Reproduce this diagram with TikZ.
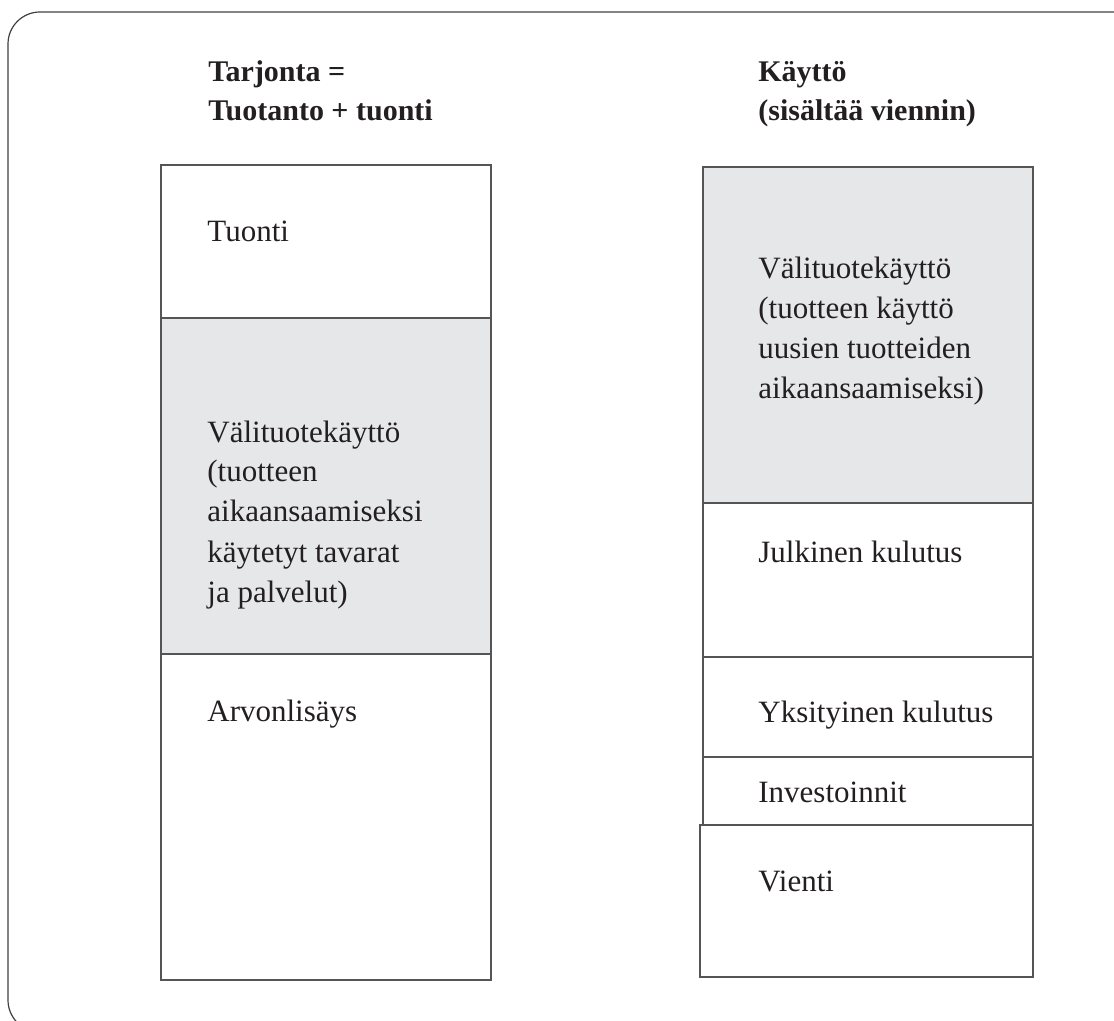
\documentclass[tikz,border=0pt]{standalone}
\usepackage{fontspec}
\setmainfont{Liberation Serif}
\definecolor{boxgrey}{HTML}{E6E7E8}
\definecolor{linegrey}{HTML}{555555}
\definecolor{textblack}{HTML}{231F20}
\begin{document}
\begin{tikzpicture}
[x=0.5pt,y=-0.5pt,
  boxdecorate/.style={draw=linegrey,line width=0.7pt},%
  shadedecorate/.style={boxdecorate,fill=boxgrey},%
  labeldecorate/.style={anchor=base west,inner sep=0pt,align=left,text=textblack,
    font=\fontsize{15.5pt}{20pt}\selectfont},%
  headdecorate/.style={labeldecorate,font=\fontsize{15pt}{19.5pt}\selectfont\bfseries}]
\useasboundingbox (0,0) rectangle (1114,1021);
\clip (0,0) rectangle (1114,1021);
%% outer frame
\draw[black!75,line width=0.6pt,rounded corners=16pt] (8,12) rectangle (1150,1032);
%% column boxes
\foreach \xa/\xb/\ya/\yb/\boxstyle in {161/491/165/318/boxdecorate,
  161/491/318/654/shadedecorate, 161/491/654/980/boxdecorate,
  703/1033/167/503/shadedecorate, 703/1033/503/657/boxdecorate,
  703/1033/657/757/boxdecorate, 703/1033/757/825/boxdecorate,
  700/1033/825/977/boxdecorate}
{
  \draw[\boxstyle] (\xa,\ya) rectangle (\xb,\yb);
}
%% headings (base = last line)
\node (supplyhead) at (208,121) [headdecorate] {Tarjonta =\\Tuotanto + tuonti};
\node (usehead) at (758,121) [headdecorate] {Käyttö\\(sisältää viennin)};
%% box labels
\foreach \nodename/\x/\y/\nodetext in {import/207/242/{Tuonti},
  intersupply/207/602/{Välituotekäyttö\\(tuotteen\\aikaansaamiseksi\\käytetyt tavarat\\ja palvelut)},
  valueadded/207/721/{Arvonlisäys},
  interuse/758/399/{Välituotekäyttö\\(tuotteen käyttö\\uusien tuotteiden\\aikaansaamiseksi)},
  government/758/562/{Julkinen kulutus},
  household/758/722/{Yksityinen kulutus},
  investment/758/802/{Investoinnit},
  export/758/891/{Vienti}}
{
  \node (\nodename) at (\x,\y) [labeldecorate] {\nodetext};
}
\end{tikzpicture}
\end{document}
